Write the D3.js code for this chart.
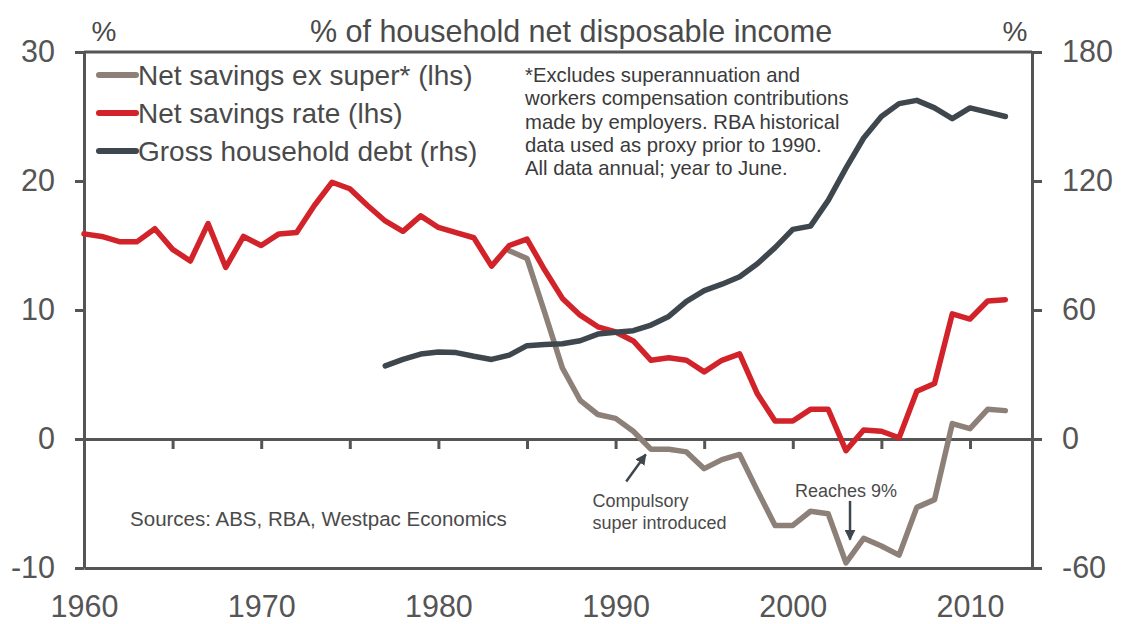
<!DOCTYPE html>
<html>
<head>
<meta charset="utf-8">
<script src="https://cdn.jsdelivr.net/npm/d3@7"></script>
<style>
  body { margin: 0; background: #fff; }
  text { font-family: 'Liberation Sans', Arial, sans-serif; fill: #4a4a4a; }
</style>
</head>
<body>
<div id="graf"></div>
<script>
// Datos (anual, año a junio)
anosTasa = d3.range(1960, 2013)
tasaAhorro = [15.9, 15.7, 15.3, 15.3, 16.3, 14.7, 13.8, 16.7, 13.3, 15.7,
              15.0, 15.9, 16.0, 18.1, 19.9, 19.4, 18.1, 16.9, 16.1, 17.3,
              16.4, 16.0, 15.6, 13.4, 15.0, 15.5, 13.1, 10.9, 9.6, 8.7,
              8.3, 7.6, 6.1, 6.3, 6.1, 5.2, 6.1, 6.6, 3.5, 1.4,
              1.4, 2.3, 2.3, -0.9, 0.7, 0.6, 0.1, 3.7, 4.3, 9.7,
              9.3, 10.7, 10.8]

anosExSuper = d3.range(1984, 2013)
ahorroExSuper = [14.6, 14.0, 9.8, 5.5, 3.0, 1.9, 1.6, 0.6, -0.8, -0.8,
                 -1.0, -2.3, -1.6, -1.2, -4.0, -6.7, -6.7, -5.6, -5.8, -9.6,
                 -7.7, -8.3, -9.0, -5.3, -4.7, 1.2, 0.8, 2.3, 2.2]

anosDeuda = d3.range(1977, 2013)
deudaHogares = [34, 37, 39.5, 40.5, 40.2, 38.5, 37, 39, 43.4, 44,
                44.3, 45.7, 48.8, 49.6, 50.4, 53, 57, 64, 69, 72,
                75.5, 81.5, 89, 97.5, 99, 111, 126, 140, 150, 156,
                157.5, 154, 149, 154, 152, 150]

ticksIzq = [-10, 0, 10, 20, 30]
ticksDer = [-60, 0, 60, 120, 180]
ticksMenores = [1965, 1970, 1975, 1980, 1985, 1990, 1995, 2000, 2005, 2010]
etiquetasX = [1960, 1970, 1980, 1990, 2000, 2010]

leyendaNombres = ['Net savings ex super* (lhs)', 'Net savings rate (lhs)', 'Gross household debt (rhs)']
leyendaColores = ['#8c8078', '#d2232a', '#3f474e']

notaLineas = ['*Excludes superannuation and',
              'workers compensation contributions',
              'made by employers. RBA historical',
              'data used as proxy prior to 1990.',
              'All data annual; year to June.']

ancho_total = 1121
alto_total = 624
colorEje = '#555'

svg = d3.select('#graf').append('svg')
        .attr('width', ancho_total)
        .attr('height', alto_total)

// Escaladores
x = d3.scaleLinear().domain([1960, 2013.5]).range([84, 1032])
yIzq = d3.scaleLinear().domain([-10, 30]).range([568, 52])
yDer = d3.scaleLinear().domain([-60, 180]).range([568, 52])

defs = svg.append('defs')
defs.append('marker')
    .attr('id', 'flecha')
    .attr('viewBox', '0 0 10 10')
    .attr('refX', 9).attr('refY', 5)
    .attr('markerWidth', 11).attr('markerHeight', 11)
    .attr('markerUnits', 'userSpaceOnUse')
    .attr('orient', 'auto')
    .append('path')
    .attr('d', 'M0,0 L10,5 L0,10 z')
    .attr('fill', '#3f474e')

function estiloEje(g, tam) {
  g.selectAll('path, line').attr('stroke', colorEje).attr('stroke-width', 3)
  g.selectAll('text').style('font-size', tam + 'px').style('fill', '#555')
  g.attr('font-family', null)
}

// Borde superior
svg.append('line')
   .attr('x1', x(1960)).attr('x2', x(2013.5))
   .attr('y1', yIzq(30)).attr('y2', yIzq(30))
   .attr('stroke', colorEje).attr('stroke-width', 3)

// Linea de cero con marcas cada 5 años
ejeCero = svg.append('g')
  .attr('transform', `translate(0, ${yIzq(0)})`)
  .call(d3.axisBottom(x).tickValues(ticksMenores).tickSize(10).tickSizeOuter(0).tickFormat(''))
estiloEje(ejeCero, 30)

// Eje X abajo (solo etiquetas + borde)
ejeX = svg.append('g')
  .attr('transform', `translate(0, ${yIzq(-10)})`)
  .call(d3.axisBottom(x).tickValues(etiquetasX).tickSize(0).tickSizeOuter(0).tickPadding(27).tickFormat(d => d))
estiloEje(ejeX, 30.5)

ejeIzq = svg.append('g')
  .attr('transform', `translate(${x(1960)}, 0)`)
  .call(d3.axisLeft(yIzq).tickValues(ticksIzq).tickSize(9).tickSizeOuter(0).tickPadding(20).tickFormat(d => String(d)))
estiloEje(ejeIzq, 30.5)

ejeDer = svg.append('g')
  .attr('transform', `translate(${x(2013.5)}, 0)`)
  .call(d3.axisRight(yDer).tickValues(ticksDer).tickSize(10).tickSizeOuter(0).tickPadding(20).tickFormat(d => String(d)))
estiloEje(ejeDer, 30.5)

// Series
lineaIzq = d3.line().x(d => x(d[0])).y(d => yIzq(d[1]))
lineaDer = d3.line().x(d => x(d[0])).y(d => yDer(d[1]))

svg.append('path')
   .datum(d3.zip(anosExSuper, ahorroExSuper))
   .attr('d', lineaIzq)
   .attr('fill', 'none').attr('stroke', leyendaColores[0]).attr('stroke-width', 5.5)
   .attr('stroke-linejoin', 'round').attr('stroke-linecap', 'round')

svg.append('path')
   .datum(d3.zip(anosTasa, tasaAhorro))
   .attr('d', lineaIzq)
   .attr('fill', 'none').attr('stroke', leyendaColores[1]).attr('stroke-width', 5.5)
   .attr('stroke-linejoin', 'round').attr('stroke-linecap', 'round')

svg.append('path')
   .datum(d3.zip(anosDeuda, deudaHogares))
   .attr('d', lineaDer)
   .attr('fill', 'none').attr('stroke', leyendaColores[2]).attr('stroke-width', 5.5)
   .attr('stroke-linejoin', 'round').attr('stroke-linecap', 'round')

// Titulos
svg.append('text').attr('x', 104).attr('y', 31).attr('dy', '0.35em')
   .attr('text-anchor', 'middle').style('font-size', '28px').text('%')
svg.append('text').attr('x', 1015).attr('y', 31).attr('dy', '0.35em')
   .attr('text-anchor', 'middle').style('font-size', '28px').text('%')
svg.append('text').attr('x', 571).attr('y', 31).attr('dy', '0.35em')
   .attr('text-anchor', 'middle').style('font-size', '30.5px').text('% of household net disposable income')

// Leyenda
leyenda = svg.append('g')
leyendaNombres.forEach((nombre, i) => {
  yl = 75 + i * 38
  leyenda.append('line')
         .attr('x1', 99).attr('x2', 136).attr('y1', yl).attr('y2', yl)
         .attr('stroke', leyendaColores[i]).attr('stroke-width', 6).attr('stroke-linecap', 'round')
  leyenda.append('text')
         .attr('x', 138).attr('y', yl).attr('dy', '0.35em')
         .style('font-size', '28px').text(nombre)
})

// Nota al pie
notaLineas.forEach((linea, i) => {
  svg.append('text')
     .attr('x', 525).attr('y', 75 + i * 23.3).attr('dy', '0.35em')
     .style('font-size', '20.3px').style('fill', '#3a3a3a').text(linea)
})

svg.append('text')
   .attr('x', x(1962.6)).attr('y', yIzq(-6.2)).attr('dy', '0.35em')
   .style('font-size', '20.5px').text('Sources: ABS, RBA, Westpac Economics')

// Anotaciones con flechas
svg.append('line')
   .attr('x1', x(1990.6)).attr('y1', yIzq(-3.3))
   .attr('x2', x(1991.7)).attr('y2', yIzq(-1.2))
   .attr('stroke', '#3f474e').attr('stroke-width', 2.5).attr('marker-end', 'url(#flecha)')
svg.append('text')
   .attr('x', x(1988.7)).attr('y', yIzq(-4.8)).attr('dy', '0.35em')
   .style('font-size', '18px').text('Compulsory')
svg.append('text')
   .attr('x', x(1988.7)).attr('y', yIzq(-6.5)).attr('dy', '0.35em')
   .style('font-size', '18px').text('super introduced')

svg.append('line')
   .attr('x1', x(2003.23)).attr('y1', yIzq(-4.8))
   .attr('x2', x(2003.23)).attr('y2', yIzq(-7.8))
   .attr('stroke', '#3f474e').attr('stroke-width', 2.5).attr('marker-end', 'url(#flecha)')
svg.append('text')
   .attr('x', x(2003.0)).attr('y', yIzq(-4.0)).attr('dy', '0.35em')
   .attr('text-anchor', 'middle')
   .style('font-size', '18px').text('Reaches 9%')
</script>
</body>
</html>
